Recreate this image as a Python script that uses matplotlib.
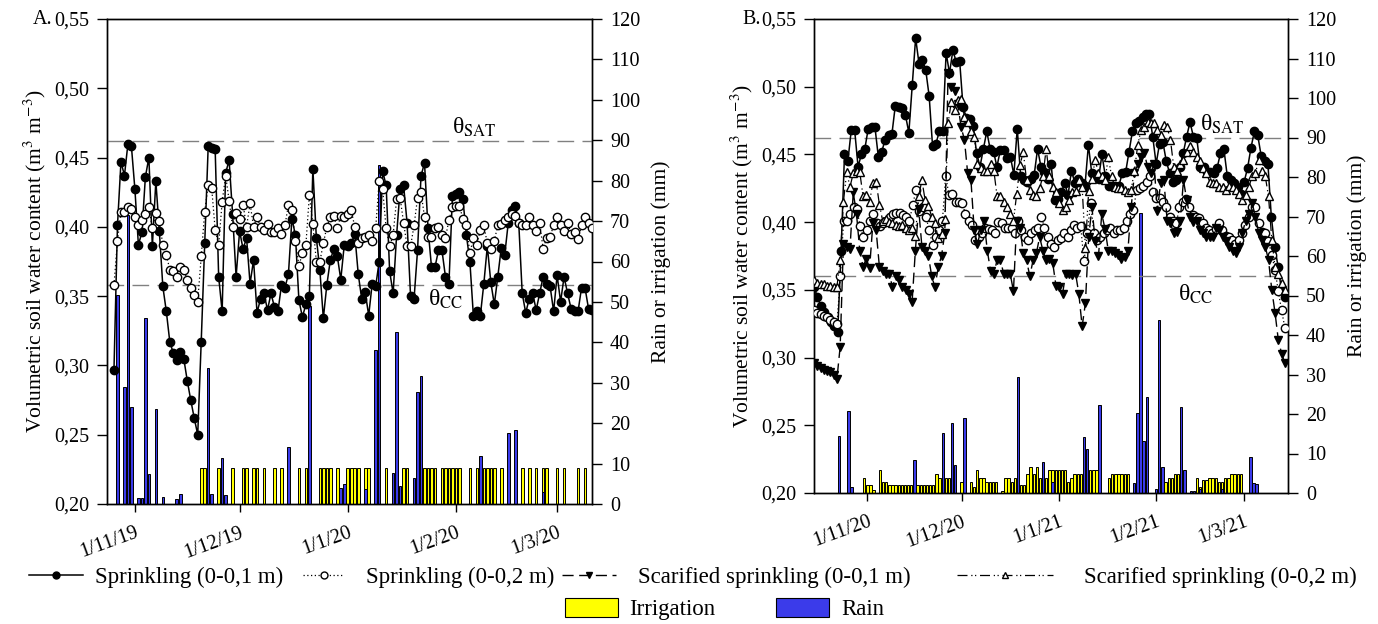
import numpy as np
import pandas as pd
import matplotlib
matplotlib.use("Agg")
import matplotlib.pyplot as plt
import matplotlib.dates as mdates
from matplotlib.ticker import FuncFormatter
from matplotlib.lines import Line2D
from matplotlib.patches import Patch

plt.rcParams["font.family"] = ["Liberation Serif", "DejaVu Serif"]
plt.rcParams["mathtext.fontset"] = "stix"
plt.rcParams["font.size"] = 14.5

# ---------------- panel A (2019/20), daily from 26 Oct 2019 ----------------
a_start = "2019-10-26"
a_spr_01 = [0.297, 0.401, 0.447, 0.437, 0.460, 0.458, 0.427, 0.387, 0.396, 0.436,
            0.450, 0.386, 0.433, 0.397, 0.357, 0.339, 0.317, 0.309, 0.304, 0.310,
            0.305, 0.289, 0.275, 0.262, 0.250, 0.317, 0.388, 0.458, 0.457, 0.456,
            0.364, 0.339, 0.439, 0.448, 0.409, 0.364, 0.397, 0.384, 0.392, 0.359,
            0.376, 0.338, 0.348, 0.352, 0.340, 0.352, 0.342, 0.339, 0.358, 0.356,
            0.366, 0.406, 0.394, 0.347, 0.335, 0.344, 0.350, 0.442, 0.392, 0.369,
            0.334, 0.358, 0.376, 0.384, 0.379, 0.362, 0.387, 0.386, 0.388, 0.395,
            0.366, 0.348, 0.353, 0.336, 0.359, 0.357, 0.375, 0.440, 0.430, 0.368,
            0.352, 0.394, 0.427, 0.430, 0.403, 0.350, 0.348, 0.383, 0.437, 0.446,
            0.399, 0.371, 0.371, 0.383, 0.383, 0.364, 0.359, 0.422, 0.424, 0.425,
            0.420, 0.394, 0.375, 0.336, 0.339, 0.336, 0.359, 0.386, 0.360, 0.344,
            0.364, 0.385, 0.380, 0.403, 0.412, 0.415, 0.403, 0.352, 0.338, 0.348,
            0.352, 0.340, 0.352, 0.364, 0.359, 0.357, 0.339, 0.365, 0.346, 0.364,
            0.352, 0.341, 0.339, 0.339, 0.356, 0.356, 0.341, 0.340]
a_spr_02 = [0.358, 0.390, 0.411, 0.411, 0.414, 0.413, 0.407, 0.401, 0.405, 0.409,
            0.414, 0.399, 0.410, 0.404, 0.387, 0.380, 0.369, 0.368, 0.364, 0.371,
            0.369, 0.362, 0.356, 0.351, 0.346, 0.379, 0.411, 0.430, 0.428, 0.398,
            0.387, 0.418, 0.437, 0.419, 0.400, 0.410, 0.406, 0.416, 0.400, 0.417,
            0.400, 0.407, 0.400, 0.398, 0.402, 0.396, 0.396, 0.399, 0.395, 0.401,
            0.416, 0.412, 0.390, 0.372, 0.381, 0.387, 0.423, 0.402, 0.375, 0.375,
            0.388, 0.400, 0.407, 0.408, 0.399, 0.408, 0.407, 0.409, 0.412, 0.400,
            0.388, 0.392, 0.393, 0.394, 0.390, 0.399, 0.433, 0.427, 0.399, 0.386,
            0.394, 0.420, 0.421, 0.403, 0.386, 0.386, 0.401, 0.421, 0.425, 0.407,
            0.393, 0.393, 0.399, 0.400, 0.394, 0.392, 0.405, 0.414, 0.415, 0.415,
            0.406, 0.401, 0.381, 0.392, 0.387, 0.398, 0.401, 0.388, 0.384, 0.390,
            0.401, 0.402, 0.405, 0.407, 0.409, 0.408, 0.403, 0.401, 0.401, 0.407,
            0.401, 0.397, 0.403, 0.384, 0.392, 0.393, 0.401, 0.407, 0.401, 0.397,
            0.403, 0.395, 0.396, 0.391, 0.401, 0.407, 0.403, 0.399]

a_irr_dates = ["2019-11-20", "2019-11-21", "2019-11-25", "2019-11-29", "2019-12-02",
               "2019-12-03", "2019-12-05", "2019-12-06", "2019-12-08", "2019-12-11",
               "2019-12-13", "2019-12-18", "2019-12-20", "2019-12-24", "2019-12-25",
               "2019-12-26", "2019-12-27", "2019-12-29", "2020-01-01", "2020-01-02",
               "2020-01-03", "2020-01-04", "2020-01-06", "2020-01-07", "2020-01-12",
               "2020-01-17", "2020-01-18", "2020-01-23", "2020-01-24", "2020-01-25",
               "2020-01-26", "2020-01-28", "2020-01-29", "2020-01-30", "2020-01-31",
               "2020-02-01", "2020-02-02", "2020-02-05", "2020-02-07", "2020-02-09",
               "2020-02-10", "2020-02-11", "2020-02-12", "2020-02-14", "2020-02-20",
               "2020-02-22", "2020-02-24", "2020-02-26", "2020-02-27", "2020-03-01",
               "2020-03-03", "2020-03-07", "2020-03-09"]
a_irr_mm = [9, 9, 9, 9, 9, 9, 9, 9, 9, 9, 9, 9, 9, 9, 9, 9, 9, 9, 9, 9, 9, 9, 9, 9, 9,
            9, 9, 9, 9, 9, 9, 9, 9, 9, 9, 9, 9, 9, 9, 9, 9, 9, 9, 9, 9, 9, 9, 9, 9, 9,
            9, 9, 9]
a_rain_dates = ["2019-10-27", "2019-10-29", "2019-10-30", "2019-10-31", "2019-11-02",
                "2019-11-03", "2019-11-04", "2019-11-05", "2019-11-07", "2019-11-09",
                "2019-11-13", "2019-11-14", "2019-11-22", "2019-11-23", "2019-11-26",
                "2019-11-27", "2019-12-15", "2019-12-21", "2019-12-30", "2019-12-31",
                "2020-01-06", "2020-01-09", "2020-01-10", "2020-01-14", "2020-01-15",
                "2020-01-16", "2020-01-20", "2020-01-21", "2020-01-22", "2020-02-08",
                "2020-02-16", "2020-02-18", "2020-02-26"]
a_rain_mm = [51.7, 29.0, 71.5, 24.0, 1.5, 1.6, 46.0, 7.4, 23.5, 1.8,
             1.3, 2.5, 33.6, 2.5, 11.4, 2.3, 14.0, 49.0, 4.0, 5.0,
             3.8, 38.0, 84.0, 7.6, 42.5, 4.5, 6.5, 27.7, 31.7, 12.0,
             17.5, 18.3, 3.0]

# ---------------- panel B (2020/21), daily from 15 Oct 2020 ----------------
b_start, b_end = "2020-10-15", "2021-03-14"
b_spr_01 = [0.352, 0.345, 0.338, 0.334, 0.330, 0.326, 0.323, 0.319, 0.379,
            0.450, 0.445, 0.468, 0.468, 0.441, 0.450, 0.454, 0.469,
            0.470, 0.470, 0.448, 0.452, 0.461, 0.464, 0.465, 0.486, 0.485, 0.484,
            0.479, 0.466, 0.501, 0.536, 0.517, 0.520, 0.512, 0.493, 0.456, 0.458,
            0.467, 0.467, 0.525, 0.510, 0.527, 0.518, 0.519, 0.485, 0.477, 0.476,
            0.471, 0.451, 0.441, 0.454, 0.467, 0.454, 0.452, 0.441, 0.453, 0.453,
            0.447, 0.448, 0.435, 0.469, 0.434, 0.431, 0.430, 0.432, 0.435, 0.454,
            0.441, 0.437, 0.432, 0.443, 0.416, 0.417, 0.422, 0.429, 0.420, 0.438,
            0.429, 0.432, 0.429, 0.427, 0.457, 0.436, 0.435, 0.432, 0.450, 0.434,
            0.427, 0.427, 0.427, 0.427, 0.436, 0.437, 0.452, 0.467, 0.473, 0.475,
            0.478, 0.480, 0.480, 0.463, 0.443, 0.458, 0.459, 0.445, 0.436, 0.430,
            0.431, 0.441, 0.451, 0.463, 0.474, 0.463, 0.462, 0.441, 0.441, 0.437,
            0.437, 0.436, 0.440, 0.451, 0.454, 0.434, 0.431, 0.429, 0.426, 0.421,
            0.430, 0.440, 0.455, 0.467, 0.464, 0.449, 0.445, 0.443, 0.404, 0.382,
            0.367, 0.350, 0.345]
b_spr_02 = [0.335, 0.333, 0.332, 0.331, 0.330, 0.328, 0.326, 0.325, 0.360,
            0.401, 0.401, 0.406, 0.411, 0.410, 0.397, 0.389, 0.394, 0.401, 0.406,
            0.399, 0.397, 0.399, 0.401, 0.404, 0.406, 0.407, 0.407, 0.405, 0.404,
            0.401, 0.413, 0.424, 0.408, 0.411, 0.404, 0.394, 0.383, 0.389, 0.394,
            0.401, 0.434, 0.420, 0.421, 0.415, 0.415, 0.414, 0.406, 0.401, 0.398,
            0.387, 0.389, 0.392, 0.396, 0.395, 0.394, 0.392, 0.400, 0.399, 0.396,
            0.396, 0.396, 0.392, 0.401, 0.394, 0.389, 0.387, 0.392, 0.394, 0.396,
            0.404, 0.396, 0.389, 0.384, 0.382, 0.387, 0.388, 0.392, 0.389, 0.394,
            0.398, 0.396, 0.397, 0.371, 0.392, 0.414, 0.392, 0.387, 0.389, 0.392,
            0.394, 0.396, 0.392, 0.394, 0.394, 0.396, 0.401, 0.406, 0.409, 0.424,
            0.425, 0.427, 0.430, 0.434, 0.422, 0.418, 0.418, 0.415, 0.411, 0.404,
            0.401, 0.399, 0.411, 0.415, 0.417, 0.411, 0.405, 0.404, 0.403, 0.399,
            0.396, 0.394, 0.392, 0.395, 0.399, 0.394, 0.390, 0.389, 0.387, 0.384,
            0.387, 0.392, 0.398, 0.404, 0.411, 0.411, 0.399, 0.393, 0.392, 0.386,
            0.376, 0.365, 0.349, 0.335, 0.322]
b_scar_01 = [0.296, 0.294, 0.292, 0.291, 0.290, 0.289, 0.287, 0.284, 0.308,
             0.384, 0.382, 0.380, 0.422, 0.406, 0.379, 0.367, 0.373, 0.366, 0.399,
             0.394, 0.367, 0.364, 0.362, 0.362, 0.352, 0.360, 0.357, 0.352, 0.350,
             0.347, 0.341, 0.379, 0.410, 0.382, 0.379, 0.375, 0.360, 0.352, 0.367,
             0.375, 0.392, 0.510, 0.500, 0.497, 0.487, 0.470, 0.461, 0.436, 0.431,
             0.394, 0.384, 0.394, 0.401, 0.379, 0.364, 0.362, 0.372, 0.372, 0.362,
             0.362, 0.362, 0.349, 0.401, 0.396, 0.377, 0.372, 0.360, 0.372, 0.377,
             0.389, 0.379, 0.372, 0.373, 0.370, 0.353, 0.352, 0.347, 0.362, 0.362,
             0.361, 0.362, 0.347, 0.323, 0.340, 0.389, 0.411, 0.386, 0.375, 0.406,
             0.395, 0.379, 0.379, 0.377, 0.376, 0.373, 0.374, 0.379, 0.411, 0.436,
             0.443, 0.448, 0.451, 0.441, 0.436, 0.443, 0.408, 0.429, 0.431, 0.401,
             0.399, 0.392, 0.393, 0.401, 0.431, 0.416, 0.404, 0.400, 0.401, 0.394,
             0.392, 0.389, 0.389, 0.389, 0.396, 0.394, 0.389, 0.386, 0.382, 0.379,
             0.377, 0.382, 0.392, 0.401, 0.406, 0.414, 0.404, 0.392, 0.387, 0.382,
             0.372, 0.350, 0.333, 0.313, 0.303, 0.296]
b_scar_02 = [0.357, 0.355, 0.354, 0.354, 0.353, 0.353, 0.352, 0.352, 0.372,
             0.415, 0.437, 0.426, 0.436, 0.438, 0.437, 0.419, 0.420, 0.415, 0.429,
             0.430, 0.413, 0.401, 0.402, 0.400, 0.399, 0.398, 0.397, 0.398, 0.396,
             0.394, 0.396, 0.390, 0.419, 0.431, 0.416, 0.412, 0.404, 0.399, 0.388,
             0.391, 0.402, 0.473, 0.489, 0.483, 0.490, 0.491, 0.478, 0.474, 0.467,
             0.463, 0.443, 0.440, 0.438, 0.438, 0.443, 0.438, 0.419, 0.419, 0.415,
             0.411, 0.406, 0.401, 0.421, 0.442, 0.452, 0.431, 0.424, 0.420, 0.419,
             0.425, 0.434, 0.454, 0.434, 0.426, 0.422, 0.414, 0.409, 0.411, 0.416,
             0.422, 0.423, 0.431, 0.426, 0.381, 0.423, 0.432, 0.446, 0.436, 0.434,
             0.431, 0.448, 0.434, 0.426, 0.425, 0.425, 0.424, 0.422, 0.424, 0.438,
             0.457, 0.468, 0.470, 0.474, 0.473, 0.473, 0.468, 0.464, 0.472, 0.470,
             0.461, 0.441, 0.438, 0.443, 0.446, 0.452, 0.456, 0.452, 0.448, 0.445,
             0.440, 0.436, 0.430, 0.429, 0.429, 0.426, 0.426, 0.424, 0.427, 0.426,
             0.424, 0.421, 0.416, 0.420, 0.426, 0.434, 0.436, 0.446, 0.438, 0.434,
             0.419, 0.387, 0.367, 0.362, 0.355, 0.350]

# irrigation in B: daily amounts from 31 Oct 2020
b_irr_start = "2020-10-31"
b_irr_mm = [3.8,
            1.9, 1.9, 0.8, 0, 5.7, 2.8, 2.8, 1.9, 1.9, 1.9, 1.9, 1.9, 1.9, 1.9, 1.9,
            0, 1.9, 1.9, 1.9, 1.9, 1.9, 1.9, 4.8, 3.7, 0, 3.7, 3.7, 0, 0, 0,
            2.8, 0, 0, 2.8, 1.5, 5.7, 3.8, 3.8, 2.8, 2.8, 2.8, 2.8, 0, 0.6, 3.8,
            3.8, 2.8, 3.8, 0, 1.9, 1.9, 4.8, 6.7, 4.8, 6.7, 3.8, 0, 3.8, 5.7, 5.7,
            5.7, 5.7, 5.7, 5.7, 2.8, 3.8, 4.8, 4.8, 4.8, 0, 0, 5.7, 5.7, 5.7, 0, 0,
            0, 3.8, 4.8, 4.8, 4.8, 4.8, 4.8, 4.8, 0, 0, 0, 0, 0, 0, 0, 0,
            0, 0, 0, 2.8, 3.8, 3.8, 4.8, 4.8, 0, 0, 0, 0, 0, 3.8, 1.5, 3.2, 3.2,
            3.8, 3.8, 3.8, 2.8, 2.8, 3.8, 3.8, 4.8, 4.8, 4.8, 4.8]
b_rain_dates = ["2020-10-23", "2020-10-26", "2020-10-27", "2020-11-16", "2020-11-25",
                "2020-11-28", "2020-11-29", "2020-12-02", "2020-12-19", "2020-12-27",
                "2020-12-30", "2021-01-09", "2021-01-10", "2021-01-14", "2021-01-25",
                "2021-01-26", "2021-01-27", "2021-01-28", "2021-01-29", "2021-02-01",
                "2021-02-02", "2021-02-03", "2021-02-09", "2021-02-10", "2021-02-12",
                "2021-02-13", "2021-02-15", "2021-02-22", "2021-03-03", "2021-03-04",
                "2021-03-05"]
b_rain_mm = [14.4, 20.8, 1.5, 8.4, 15.2, 17.7, 7.1, 19.0, 29.4, 7.8,
             2.8, 14.2, 11.2, 22.3, 2.6, 20.3, 70.9, 13.2, 24.3, 1.0,
             43.8, 6.5, 21.8, 5.7, 0.5, 0.5, 1.0, 1.0, 9.2, 2.5, 2.2]

theta_sat = 0.462
theta_cc_a, theta_cc_b = 0.358, 0.360

labels = ["Sprinkling (0-0,1 m)", "Sprinkling (0-0,2 m)",
          "Scarified sprinkling (0-0,1 m)", "Scarified sprinkling (0-0,2 m)"]
styles = [dict(color="black", ls="-", lw=1.1, marker="o", mfc="black", mec="black"),
          dict(color="black", ls=(0, (1, 2)), lw=0.9, marker="o", mfc="white", mec="black"),
          dict(color="black", ls=(0, (8, 4)), lw=1.0, marker="v", mfc="black", mec="black"),
          dict(color="black", ls=(0, (8, 3, 1, 2, 1, 3)), lw=0.9, marker="^", mfc="white", mec="black")]
IRR_COLOR = "#ffff00"
RAIN_COLOR = "#3b3bea"
W, H = 1378, 624


def date_label(x, pos):
    d = mdates.num2date(x)
    return "%d/%d/%d" % (d.day, d.month, d.year % 100)


def panel(ax, series, irr_x, irr_y, rain_x, rain_y, xlim, cc, letter, sat_at, cc_at):
    ax2 = ax.twinx()
    ax2.bar(irr_x, irr_y, width=0.75, color=IRR_COLOR, edgecolor="black", linewidth=0.7)
    ax2.bar(rain_x, rain_y, width=0.75, color=RAIN_COLOR, edgecolor="black", linewidth=0.7)
    ax2.set_ylim(0, 120)
    ax2.set_yticks(np.arange(0, 121, 10))
    ax2.set_ylabel("Rain or irrigation (mm)", labelpad=8, fontsize=15.5)
    ax2.tick_params(axis="y", direction="out", length=7, width=1, pad=6)

    ax.set_zorder(ax2.get_zorder() + 1)
    ax.patch.set_visible(False)
    ax.axhline(theta_sat, color="#808080", lw=1.0, ls=(0, (12, 6)), zorder=1)
    ax.axhline(cc, color="#808080", lw=1.0, ls=(0, (12, 6)), zorder=1)
    for (dates, vals), st in zip(series, styles):
        ax.plot(dates, vals, ms=6, zorder=3, **st)

    ax.text(pd.Timestamp(sat_at[0]), sat_at[1], "θ$_{\\mathrm{SAT}}$", fontsize=17,
            ha="left", va="center")
    ax.text(pd.Timestamp(cc_at[0]), cc_at[1], "θ$_{\\mathrm{CC}}$", fontsize=17,
            ha="left", va="center")

    ax.set_xlim(pd.Timestamp(xlim[0]), pd.Timestamp(xlim[1]))
    ax.set_ylim(0.20, 0.55)
    ax.set_yticks(np.arange(0.20, 0.551, 0.05))
    ax.yaxis.set_major_formatter(FuncFormatter(lambda v, p: ("%.2f" % v).replace(".", ",")))
    ax.set_ylabel("Volumetric soil water content (m$^3$ m$^{-3}$)", labelpad=4, fontsize=15.5)
    ax.xaxis.set_major_locator(mdates.MonthLocator(bymonthday=1))
    ax.xaxis.set_major_formatter(FuncFormatter(date_label))
    ax.tick_params(axis="y", direction="out", length=7, width=1, pad=6)
    ax.tick_params(axis="x", direction="out", length=6, width=1, pad=8)
    for lab in ax.get_xticklabels():
        lab.set_rotation(20)
        lab.set_ha("right")
        lab.set_rotation_mode("anchor")
    for a in (ax, ax2):
        for s in a.spines.values():
            s.set_linewidth(1.0)
    ax.text(-0.112, 1.0, letter, transform=ax.transAxes, ha="right", va="center")


fig = plt.figure(figsize=(13.78, 6.24), dpi=100)
ax_a = fig.add_axes([107 / W, 1 - 504 / H, 485 / W, 485 / H])
ax_b = fig.add_axes([814 / W, 1 - 493 / H, 474 / W, 474 / H])

a_days1 = pd.date_range(a_start, periods=len(a_spr_01), freq="D")
a_days2 = pd.date_range(a_start, periods=len(a_spr_02), freq="D")
panel(ax_a,
      [(a_days1, a_spr_01), (a_days2, a_spr_02)],
      pd.to_datetime(a_irr_dates), a_irr_mm, pd.to_datetime(a_rain_dates), a_rain_mm,
      ("2019-10-24", "2020-03-11"), theta_cc_a, "A.",
      ("2020-01-31", 0.472), ("2020-01-24", 0.348))

b_series = [(pd.date_range(b_start, b_end, periods=len(v)), v)
            for v in (b_spr_01, b_spr_02, b_scar_01, b_scar_02)]
panel(ax_b, b_series,
      pd.date_range(b_irr_start, periods=len(b_irr_mm), freq="D"), b_irr_mm,
      pd.to_datetime(b_rain_dates), b_rain_mm,
      ("2020-10-15", "2021-03-15"), theta_cc_b, "B.",
      ("2021-02-15", 0.472), ("2021-02-08", 0.347))


def legend_entry(handle, label, x_px, y_px, hlen, pad, hheight=0.7):
    fig.legend([handle], [label], loc="center left", bbox_to_anchor=(x_px / W, 1 - y_px / H),
               frameon=False, borderpad=0, borderaxespad=0, handlelength=hlen,
               handletextpad=pad, handleheight=hheight, fontsize=16.5)


line_handles = [Line2D([], [], ms=5, **st) for st in styles]
legend_entry(line_handles[0], labels[0], 29, 577, 2.35, 0.55)
legend_entry(line_handles[1], labels[1], 303, 577, 1.8, 0.95)
legend_entry(line_handles[2], labels[2], 562, 577, 2.35, 0.95)
legend_entry(line_handles[3], labels[3], 957, 577, 4.2, 1.35)
legend_entry(Patch(facecolor=IRR_COLOR, edgecolor="black", linewidth=0.8), "Irrigation",
             565, 609, 2.3, 0.5, 0.9)
legend_entry(Patch(facecolor=RAIN_COLOR, edgecolor="black", linewidth=0.8), "Rain",
             776, 609, 2.3, 0.55, 0.9)

fig.savefig("out.png", dpi=100)
